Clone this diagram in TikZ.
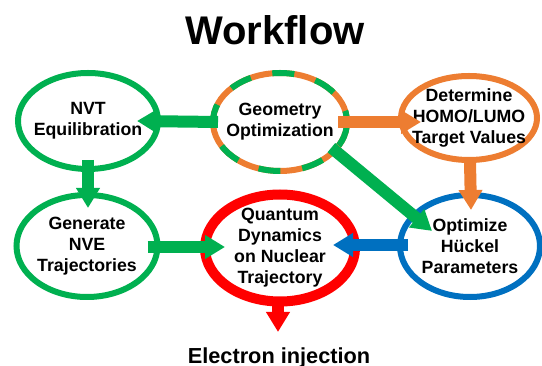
\documentclass[tikz,border=0pt]{standalone}
\usepackage{fontspec}
\setmainfont{Liberation Sans}
\usepackage{xcolor}
\usetikzlibrary{arrows.meta}
\usetikzlibrary{shapes.geometric}
\usetikzlibrary{positioning}

\definecolor{wfgreen}{HTML}{00B050}
\definecolor{wforange}{HTML}{ED7D31}
\definecolor{wfblue}{HTML}{0070C0}
\definecolor{wfred}{HTML}{FF0000}

\tikzset{
  stage/.style={ellipse,draw,line width=4.5pt,inner xsep=-12pt,inner ysep=-6pt,outer sep=0pt,
    align=center,font=\fontsize{13.3pt}{15.8pt}\selectfont\bfseries},
  fat/.style={line width=9pt,-{Triangle[length=15pt,width=17pt]}},
}

\begin{document}
\begin{tikzpicture}[x=0.75pt,y=-0.75pt]
    \useasboundingbox (0,0) rectangle (542,366);
    \node at (275, 45) [anchor=base,inner sep=0pt,font=\fontsize{30pt}{36pt}\selectfont\bfseries] (title) {Workflow};
    \node at (88, 121) [stage,draw=wfgreen,minimum width=105pt,minimum height=72pt] (nvt) {NVT\\Equilibration};
    \node at (280, 122) [stage,draw=wforange,minimum width=100.5pt,minimum height=73.5pt,
      postaction={draw=wfgreen,line width=4.5pt,dash pattern=on 16.5pt off 16.5pt,dash phase=8pt}] (geo) {Geometry\\Optimization};
    \node at (469, 118) [stage,draw=wforange,minimum width=102pt,minimum height=63pt] (homo) {Determine\\HOMO/LUMO\\Target Values};
    \node at (87, 246) [stage,draw=wfgreen,minimum width=105.75pt,minimum height=76.5pt] (nve) {Generate\\NVE\\Trajectories};
    \node at (280, 248) [stage,draw=wfred,line width=7.5pt,minimum width=112.5pt,minimum height=80.25pt] (qd) {Quantum\\Dynamics\\on Nuclear\\Trajectory};
    \node at (470, 246) [stage,draw=wfblue,minimum width=105pt,minimum height=76.5pt] (opt) {Optimize\\Hückel\\Parameters};
    \node at (279, 363) [anchor=base,inner sep=0pt,font=\fontsize{16.3pt}{19pt}\selectfont\bfseries] (elec) {Electron injection};
    \draw [fat,wfgreen] ([shift={(5,0)}]geo.west) to ([shift={(-21,0)}]nvt.east);
    \draw [fat,wforange] ([shift={(-9,0)}]geo.east) to ([shift={(20,4)}]homo.west);
    \draw [fat,wfgreen] ([shift={(0,-9)}]nvt.south) to ([shift={(1,13)}]nve.north);
    \draw [fat,wfgreen] ([shift={(-10,1)}]nve.east) to ([shift={(20,-1)}]qd.west);
    \draw [fat,wfgreen] ([shift={(4,-9)}]geo.south east) to ([shift={(11.5,21)}]opt.north west);
    \draw [fat,wforange] ([shift={(1,2)}]homo.south) to ([shift={(1,15)}]opt.north);
    \draw [fat,wfblue] ([shift={(8,-1)}]opt.west) to ([shift={(-22,-3)}]qd.east);
    \draw [fat,wfred] ([shift={(-2,-2)}]qd.south) to ([shift={(-1,-15)}]elec.north);
  \end{tikzpicture}
\end{document}
